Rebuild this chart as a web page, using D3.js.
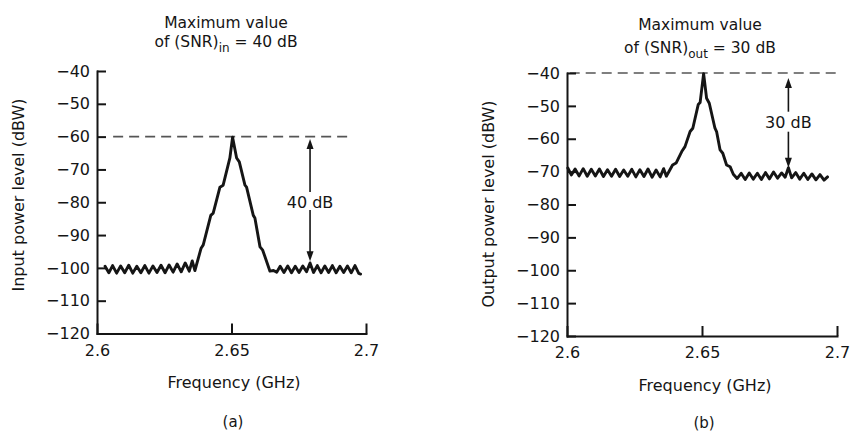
<!DOCTYPE html>
<html>
<head>
<meta charset="utf-8">
<script src="https://cdn.jsdelivr.net/npm/d3@7"></script>
<style>
  body { margin: 0; background: #fff; }
  svg text { font-family: "DejaVu Sans", "Liberation Sans", sans-serif; fill: #151515; }
</style>
</head>
<body>
<svg id="chart" width="851" height="432"></svg>
<script>
// ---------------- data ----------------
const yTicks = [-40, -50, -60, -70, -80, -90, -100, -110, -120];
const yTickLabels = ["\u221240", "\u221250", "\u221260", "\u221270", "\u221280", "\u221290", "\u2212100", "\u2212110", "\u2212120"];
const xTicks = [2.6, 2.65, 2.7];
const xTickLabels = ["2.6", "2.65", "2.7"];

// (a) input spectrum
const inputFreq = [
  2.6030, 2.6044, 2.6058, 2.6073, 2.6088, 2.6103, 2.6118, 2.6133, 2.6148, 2.6163,
  2.6178, 2.6193, 2.6208, 2.6223, 2.6238, 2.6253, 2.6268, 2.6283, 2.6298, 2.6313,
  2.6328, 2.6343, 2.6354, 2.6364,
  2.6387, 2.6395, 2.6423, 2.6432, 2.6457, 2.6469, 2.6494, 2.6504, 2.6519, 2.6529,
  2.6550, 2.6556, 2.6581, 2.6587, 2.6606, 2.6616, 2.6643,
  2.6656, 2.6668, 2.6681, 2.6695, 2.6709, 2.6723, 2.6737, 2.6751, 2.6765, 2.6779,
  2.6792, 2.6805, 2.6819, 2.6833, 2.6847, 2.6861, 2.6875, 2.6889, 2.6903, 2.6917,
  2.6931, 2.6945, 2.6959, 2.6973, 2.6980
];
const inputPower = [
  -99.5, -101.5, -99.3, -101.6, -99.4, -101.5, -99.2, -101.6, -99.5, -101.5,
  -99.3, -101.6, -99.4, -101.4, -99.2, -101.5, -99.1, -101.3, -98.8, -101.2,
  -98.5, -101.0, -97.9, -100.8,
  -94.0, -93.0, -84.0, -83.3, -75.4, -74.8, -66.5, -60.2, -66.5, -67.7,
  -74.8, -75.4, -84.0, -84.8, -93.6, -94.6, -101.0,
  -100.8, -101.3, -99.5, -101.4, -99.4, -101.5, -99.5, -101.4, -99.4, -101.2,
  -98.5, -101.4, -99.3, -101.5, -99.4, -101.4, -99.3, -101.5, -99.5, -101.4,
  -99.4, -101.5, -99.3, -101.7, -101.9
];

// (b) output spectrum
const outputFreq = [
  2.6003, 2.6016, 2.6030, 2.6045, 2.6060, 2.6075, 2.6090, 2.6105, 2.6120, 2.6135,
  2.6150, 2.6165, 2.6180, 2.6195, 2.6210, 2.6225, 2.6240, 2.6255, 2.6270, 2.6285,
  2.6300, 2.6315, 2.6330, 2.6345, 2.6358, 2.6368,
  2.6391, 2.6404, 2.6425, 2.6437, 2.6456, 2.6466, 2.6486, 2.6493, 2.6506, 2.6517,
  2.6527, 2.6548, 2.6554, 2.6567, 2.6577, 2.6591, 2.6604, 2.6616,
  2.6630, 2.6645, 2.6660, 2.6675, 2.6690, 2.6705, 2.6720, 2.6735, 2.6750, 2.6765,
  2.6780, 2.6795, 2.6808, 2.6820, 2.6832, 2.6847, 2.6862, 2.6877, 2.6892, 2.6907,
  2.6922, 2.6937, 2.6952, 2.6965
];
const outputPower = [
  -68.9, -71.0, -69.2, -71.3, -69.1, -71.4, -69.3, -71.3, -69.2, -71.5,
  -69.4, -71.4, -69.3, -71.5, -69.5, -71.4, -69.3, -71.6, -69.4, -71.5,
  -69.2, -71.7, -69.5, -71.6, -69.1, -71.4,
  -68.0, -67.4, -63.9, -62.4, -57.8, -56.8, -49.6, -49.0, -40.2, -47.7,
  -49.2, -56.8, -57.8, -63.4, -64.4, -68.0, -68.5, -70.8,
  -72.1, -70.5, -72.4, -70.4, -72.3, -70.5, -72.4, -70.3, -72.2, -70.1,
  -72.0, -70.4, -71.7, -68.8, -71.9, -70.3, -72.3, -70.5, -72.4, -70.7,
  -72.5, -70.9, -72.6, -71.6
];

// annotations
const maxLevels = [-60, -40];
const arrowFreqs = [2.6792, 2.6820];
const arrowTops = [-60.7, -41.5];
const arrowBottoms = [-98.0, -68.8];
const snrLabels = ["40 dB", "30 dB"];
const snrLabelPowers = [-80, -55];
const subscripts = ["in", "out"];
const titleRests = [" = 40 dB", " = 30 dB"];
const yAxisTitles = ["Input power level (dBW)", "Output power level (dBW)"];
const panelTags = ["(a)", "(b)"];

// ---------------- layout ----------------
const layouts = [
  { xr: [97, 366], yr: [333.5, 71], dash: [2.606, 2.6932], titleX: 226, titleY: [28, 47],
    yLab: [24, 195], xLabX: 234, xLabY: 388, tagY: 427, gap: [201, 9] },
  { xr: [567, 837], yr: [336, 73], dash: [2.601, 2.701], titleX: 700, titleY: [30, 53],
    yLab: [494, 204], xLabX: 705, xLabY: 390.5, tagY: 427.5, gap: [121.7, 10] }
];
const series = [
  { freq: inputFreq, power: inputPower },
  { freq: outputFreq, power: outputPower }
];

const svg = d3.select("#chart");
const ink = "#151515";

layouts.forEach((L, i) => {
  const x = d3.scaleLinear().domain([2.6, 2.7]).range(L.xr);
  const y = d3.scaleLinear().domain([-120, -40]).range(L.yr);
  const g = svg.append("g");

  // dashed maximum level
  g.append("line")
    .attr("x1", x(L.dash[0])).attr("x2", x(L.dash[1]))
    .attr("y1", y(maxLevels[i])).attr("y2", y(maxLevels[i]))
    .attr("stroke", "#555").attr("stroke-width", 1.6)
    .attr("stroke-dasharray", "10,6");

  // axes
  const yAxis = d3.axisLeft(y).tickValues(yTicks)
    .tickFormat((d, k) => yTickLabels[k])
    .tickSizeInner(-9).tickSizeOuter(0).tickPadding(7);
  const xAxis = d3.axisBottom(x).tickValues(xTicks)
    .tickFormat((d, k) => xTickLabels[k])
    .tickSizeInner(-10).tickSizeOuter(0).tickPadding(11);

  const ya = g.append("g").attr("transform", `translate(${L.xr[0]},0)`).call(yAxis);
  const xa = g.append("g").attr("transform", `translate(0,${L.yr[0]})`).call(xAxis);
  [ya, xa].forEach(a => {
    a.attr("font-family", null).attr("font-size", null);
    a.selectAll("path.domain").attr("stroke", ink).attr("stroke-width", 2).attr("stroke-linecap", "square");
    a.selectAll(".tick line").attr("stroke", ink).attr("stroke-width", 2);
    a.selectAll(".tick text").attr("font-size", 16).attr("fill", ink);
  });

  // spectrum line
  const s = series[i];
  const pts = s.freq.map((f, k) => [f, s.power[k]]);
  g.append("path").datum(pts)
    .attr("fill", "none").attr("stroke", ink).attr("stroke-width", 2.9)
    .attr("stroke-linejoin", "round").attr("stroke-linecap", "round")
    .attr("d", d3.line().x(d => x(d[0])).y(d => y(d[1])));

  // double-headed arrow with label gap
  const ax = x(arrowFreqs[i]);
  const yTop = y(arrowTops[i]), yBot = y(arrowBottoms[i]);
  const gc = L.gap[0], gh = L.gap[1];
  g.append("line").attr("x1", ax).attr("x2", ax).attr("y1", yTop + 8).attr("y2", gc - gh)
    .attr("stroke", ink).attr("stroke-width", 1.6);
  g.append("line").attr("x1", ax).attr("x2", ax).attr("y1", gc + gh).attr("y2", yBot - 8)
    .attr("stroke", ink).attr("stroke-width", 1.6);
  g.append("path").attr("d", `M${ax},${yTop}L${ax - 3.5},${yTop + 10}L${ax + 3.5},${yTop + 10}Z`).attr("fill", ink);
  g.append("path").attr("d", `M${ax},${yBot}L${ax - 3.5},${yBot - 10}L${ax + 3.5},${yBot - 10}Z`).attr("fill", ink);
  g.append("text").attr("x", ax).attr("y", y(snrLabelPowers[i]) + 5.8)
    .attr("text-anchor", "middle").attr("font-size", 16).text(snrLabels[i]);

  // title
  g.append("text").attr("x", L.titleX).attr("y", L.titleY[0])
    .attr("text-anchor", "middle").attr("font-size", 15.5).text("Maximum value");
  const t2 = g.append("text").attr("x", L.titleX).attr("y", L.titleY[1])
    .attr("text-anchor", "middle").attr("font-size", 15.5);
  t2.append("tspan").text("of (SNR)");
  t2.append("tspan").attr("dy", 5).attr("font-size", 12).text(subscripts[i]);
  t2.append("tspan").attr("dy", -5).text(titleRests[i]);

  // axis titles
  g.append("text").attr("transform", `translate(${L.yLab[0]},${L.yLab[1]}) rotate(-90)`)
    .attr("text-anchor", "middle").attr("font-size", 16).text(yAxisTitles[i]);
  g.append("text").attr("x", L.xLabX).attr("y", L.xLabY)
    .attr("text-anchor", "middle").attr("font-size", 16).text("Frequency (GHz)");
  g.append("text").attr("x", L.xLabX - 1).attr("y", L.tagY)
    .attr("text-anchor", "middle").attr("font-size", 15).text(panelTags[i]);
});
</script>
</body>
</html>
